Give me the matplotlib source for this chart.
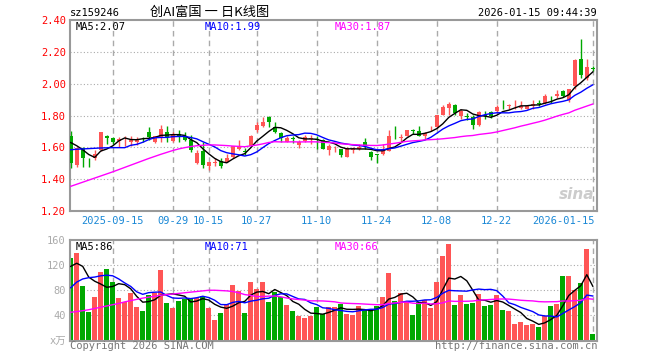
import matplotlib
matplotlib.use('Agg')
import matplotlib.pyplot as plt
import numpy as np
import pandas as pd

plt.rcParams['font.family'] = ['DejaVu Sans Mono', 'Noto Sans CJK SC']

code = 'sz159246'
title = '创AI富国 一 日K线图'
stamp = '2026-01-15 09:44:39'
holidays = ['2025-10-01', '2025-10-02', '2025-10-03', '2025-10-06', '2025-10-07',
            '2025-10-08', '2026-01-01', '2026-01-02']
tick_dates = ['2025-09-15', '2025-09-29', '2025-10-15', '2025-10-27', '2025-11-10',
              '2025-11-24', '2025-12-08', '2025-12-22', '2026-01-15']
tick_labels = ['2025-09-15', '09-29', '10-15', '10-27', '11-10', '11-24', '12-08', '12-22', '2026-01-15']

opens = [1.674, 1.489, 1.596, 1.503, 1.530, 1.581, 1.672, 1.660, 1.637, 1.645,
         1.633, 1.633, 1.666, 1.699, 1.633, 1.664, 1.699, 1.637, 1.685, 1.664,
         1.649, 1.499, 1.575, 1.485, 1.503, 1.513, 1.509, 1.540, 1.588, 1.575,
         1.608, 1.711, 1.736, 1.790, 1.726, 1.691, 1.633, 1.656, 1.616, 1.637,
         1.652, 1.652, 1.649, 1.581, 1.606, 1.588, 1.540, 1.581, 1.588, 1.633,
         1.571, 1.557, 1.561, 1.575, 1.660, 1.660, 1.674, 1.707, 1.705, 1.671,
         1.715, 1.729, 1.800, 1.846, 1.869, 1.796, 1.794, 1.792, 1.738, 1.802,
         1.823, 1.827, 1.856, 1.858, 1.865, 1.848, 1.842, 1.858, 1.877, 1.879,
         1.912, 1.921, 1.952, 1.896, 1.983, 2.156, 2.035, 2.096]
highs = [1.705, 1.602, 1.602, 1.530, 1.581, 1.699, 1.678, 1.664, 1.664, 1.674,
         1.674, 1.664, 1.668, 1.726, 1.674, 1.740, 1.736, 1.695, 1.711, 1.695,
         1.678, 1.581, 1.633, 1.505, 1.530, 1.530, 1.561, 1.608, 1.643, 1.596,
         1.678, 1.757, 1.788, 1.798, 1.761, 1.695, 1.674, 1.674, 1.643, 1.678,
         1.678, 1.670, 1.654, 1.623, 1.610, 1.592, 1.602, 1.602, 1.623, 1.658,
         1.575, 1.561, 1.623, 1.711, 1.732, 1.685, 1.711, 1.715, 1.732, 1.696,
         1.733, 1.806, 1.863, 1.883, 1.875, 1.838, 1.817, 1.800, 1.831, 1.827,
         1.829, 1.863, 1.900, 1.871, 1.896, 1.888, 1.863, 1.896, 1.900, 1.938,
         1.925, 1.958, 1.958, 1.967, 2.154, 2.281, 2.154, 2.108]
lows = [1.468, 1.478, 1.474, 1.474, 1.520, 1.577, 1.623, 1.623, 1.602, 1.608,
        1.608, 1.616, 1.633, 1.649, 1.629, 1.633, 1.633, 1.633, 1.633, 1.637,
        1.571, 1.493, 1.468, 1.458, 1.485, 1.472, 1.509, 1.534, 1.581, 1.551,
        1.608, 1.699, 1.726, 1.726, 1.691, 1.633, 1.633, 1.629, 1.596, 1.633,
        1.623, 1.590, 1.588, 1.551, 1.571, 1.540, 1.540, 1.567, 1.581, 1.588,
        1.520, 1.499, 1.551, 1.575, 1.654, 1.633, 1.670, 1.685, 1.674, 1.650,
        1.702, 1.723, 1.800, 1.800, 1.800, 1.779, 1.771, 1.717, 1.733, 1.779,
        1.785, 1.817, 1.838, 1.842, 1.842, 1.838, 1.838, 1.842, 1.858, 1.875,
        1.879, 1.910, 1.917, 1.883, 1.967, 2.035, 2.025, 2.077]
closes = [1.499, 1.596, 1.534, 1.499, 1.555, 1.699, 1.660, 1.633, 1.654, 1.649,
          1.649, 1.654, 1.664, 1.668, 1.674, 1.715, 1.664, 1.678, 1.668, 1.649,
          1.586, 1.567, 1.489, 1.505, 1.505, 1.485, 1.530, 1.608, 1.608, 1.571,
          1.670, 1.740, 1.757, 1.761, 1.699, 1.658, 1.658, 1.652, 1.633, 1.664,
          1.656, 1.649, 1.590, 1.608, 1.608, 1.551, 1.596, 1.592, 1.602, 1.608,
          1.540, 1.553, 1.588, 1.674, 1.656, 1.664, 1.711, 1.703, 1.674, 1.688,
          1.717, 1.806, 1.854, 1.875, 1.813, 1.831, 1.790, 1.738, 1.825, 1.798,
          1.794, 1.854, 1.852, 1.869, 1.869, 1.858, 1.858, 1.875, 1.873, 1.921,
          1.908, 1.935, 1.921, 1.967, 2.150, 2.056, 2.104, 2.092]
volumes = [131.5, 139.5, 86.6, 45.3, 69, 109, 113.7, 93, 67.6, 61.2,
           76, 53.3, 46.9, 72.3, 76, 112, 59.6, 51.7, 62.8, 66.5,
           66, 67, 70.8, 51.7, 32.6, 43.7, 57.5, 88, 78.7, 43.7,
           93, 82, 93, 61, 77, 69, 57, 47, 39, 35.8,
           39, 54, 41.6, 53, 53, 58.5, 42.7, 40.5, 54.8, 49.5,
           49.5, 54.8, 69, 107, 62.8, 75.5, 62, 40, 61, 64,
           52, 93, 135, 153, 56.4, 72.3, 58.5, 60, 74.5, 54.8,
           56.9, 72, 48, 46.9, 26.6, 29, 25, 26.6, 21, 39,
           54.8, 58.5, 103, 103, 80, 92, 146, 11]

# moving-average values before each window is full
ma5_head = [1.63, 1.61, 1.585, 1.555]
ma10_head = [1.585, 1.588, 1.59, 1.592, 1.594, 1.596, 1.597, 1.598, 1.598]
ma30_head = [1.355, 1.368, 1.381, 1.394, 1.407, 1.42, 1.433, 1.446, 1.46, 1.474,
             1.488, 1.502, 1.516, 1.53, 1.543, 1.556, 1.568, 1.58, 1.59, 1.598,
             1.605, 1.61, 1.613, 1.615, 1.615, 1.613, 1.611, 1.608, 1.606]
vma5_head = [118, 123, 118, 101]
vma10_head = [84, 93, 98, 100, 101, 103, 104, 103, 98]
vma30_head = [45, 46, 47.5, 49, 51, 53, 55, 57, 59, 61.5,
              63.5, 65.5, 67.5, 69, 70.5, 72, 73, 74, 75, 76,
              77, 78, 79, 80, 80, 79.5, 79, 78, 76]

RED = '#ff5555'
GREEN = '#00a800'
GRID = '#aaaaaa'


def moving(values, n, head):
    s = pd.Series(values).rolling(n).mean().to_numpy()
    s[:n - 1] = head
    return s


days = pd.bdate_range('2025-09-04', '2026-01-15')
days = days[~days.isin(pd.to_datetime(holidays))]
x = np.arange(len(days))
tick_pos = [days.get_loc(pd.Timestamp(d)) for d in tick_dates]

o = np.array(opens); h = np.array(highs); l = np.array(lows); c = np.array(closes)
v = np.array(volumes)
up = c >= o
cols = np.where(up, RED, GREEN)

ma5 = moving(c, 5, ma5_head)
ma10 = moving(c, 10, ma10_head)
ma30 = moving(c, 30, ma30_head)
vma5 = moving(v, 5, vma5_head)
vma10 = moving(v, 10, vma10_head)
vma30 = moving(v, 30, vma30_head)

W, H = 660, 360
fig = plt.figure(figsize=(W / 100, H / 100), dpi=100)
ax = fig.add_axes([70 / W, 1 - 211 / H, 527 / W, 191 / H])
axv = fig.add_axes([70 / W, 1 - 340.5 / H, 527 / W, 100.5 / H])

for a in (ax, axv):
    a.set_xlim(-0.12, 87.7)
    for s in a.spines.values():
        s.set_color('#999999')
        s.set_linewidth(1.5)
    a.tick_params(length=0, pad=3)
    for p in tick_pos:
        a.axvline(p, color=GRID, ls=(0, (4, 3)), lw=1.0, zorder=0)
    a.set_xticks([])

# price panel
ax.set_ylim(1.2, 2.4)
for yv in np.arange(1.4, 2.3, 0.2):
    ax.axhline(yv, color=GRID, ls=(0, (1, 2)), lw=0.8, zorder=0)
ax.set_yticks(np.arange(1.2, 2.41, 0.2))
ax.set_yticklabels(['%.2f' % t for t in np.arange(1.2, 2.41, 0.2)], color='red', fontsize=7.5)

ax.vlines(x, l, h, colors=cols, lw=1.0, zorder=2)
body = np.maximum(np.abs(c - o), 0.003)
ax.bar(x, body, bottom=np.minimum(o, c), width=0.72, color=cols, zorder=3)

ax.plot(x, ma5, color='black', lw=1.0, zorder=4)
ax.plot(x, ma10, color='#0000ff', lw=1.0, zorder=4)
ax.plot(x, ma30, color='#ff00ff', lw=1.0, zorder=4)

for p, lab, in zip(tick_pos, tick_labels):
    ha = 'right' if p == tick_pos[-1] else 'center'
    ax.text(p + (0.3 if ha == 'right' else 0), 1.2 - 0.065, lab, ha=ha, va='center',
            color='#1a88d6', fontsize=7.5)

ax.text(0.01, 0.965, 'MA5:%.2f' % ma5[-1], transform=ax.transAxes, fontsize=7.5, va='center')
ax.text(0.256, 0.965, 'MA10:%.2f' % ma10[-1], transform=ax.transAxes, fontsize=7.5,
        va='center', color='#0000ff')
ax.text(0.502, 0.965, 'MA30:%.2f' % ma30[-1], transform=ax.transAxes, fontsize=7.5,
        va='center', color='#ff00ff')
ax.text(0.995, 0.085, 'sina', transform=ax.transAxes, ha='right', va='center',
        fontsize=11, fontweight='bold', style='italic', color='#cccccc',
        family='DejaVu Sans', zorder=1)

# volume panel
axv.set_ylim(0, 160)
for yv in (40, 80, 120):
    axv.axhline(yv, color=GRID, ls=(0, (1, 2)), lw=0.8, zorder=0)
axv.set_yticks([0, 40, 80, 120, 160])
axv.set_yticklabels(['x万', '40', '80', '120', '160'], color='#aaaaaa', fontsize=7.5)
axv.bar(x, v, width=0.84, color=cols, zorder=2)
axv.plot(x, vma5, color='black', lw=1.0, zorder=4)
axv.plot(x, vma10, color='#0000ff', lw=1.0, zorder=4)
axv.plot(x, vma30, color='#ff00ff', lw=1.0, zorder=4)
axv.text(0.01, 0.935, 'MA5:%d' % round(vma5[-1]), transform=axv.transAxes, fontsize=7.5, va='center')
axv.text(0.256, 0.935, 'MA10:%d' % round(vma10[-1]), transform=axv.transAxes, fontsize=7.5,
         va='center', color='#0000ff')
axv.text(0.502, 0.935, 'MA30:%d' % round(vma30[-1]), transform=axv.transAxes, fontsize=7.5,
         va='center', color='#ff00ff')

# header / footer
fig.text(70 / W, 1 - 12.5 / H, code, fontsize=7.5, va='center')
fig.text(150 / W, 1 - 12.5 / H, title, fontsize=9.5, va='center',
         family=['Noto Sans CJK SC', 'DejaVu Sans'])
fig.text(597 / W, 1 - 12.5 / H, stamp, fontsize=7.5, va='center', ha='right')
fig.text(70 / W, 1 - 346 / H, 'Copyright 2026 SINA.COM', fontsize=7.5, va='center', color='#777777')
fig.text(597 / W, 1 - 346 / H, 'http://finance.sina.com.cn', fontsize=7.5, va='center',
         ha='right', color='#777777')

fig.savefig('out.png', dpi=100)
